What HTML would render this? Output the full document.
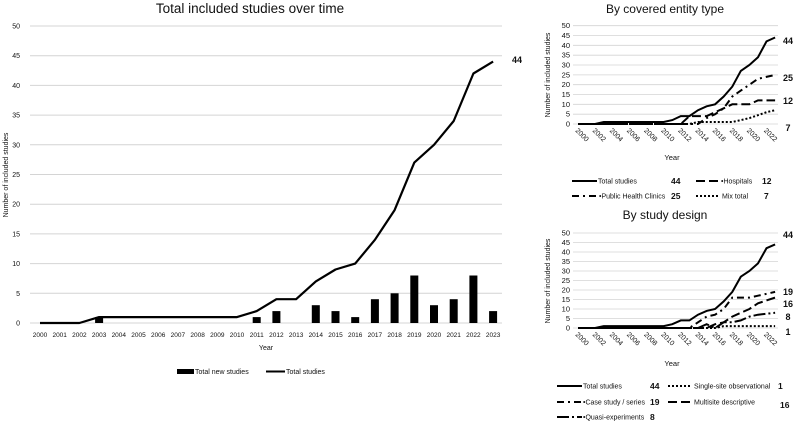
<!DOCTYPE html>
<html><head><meta charset="utf-8"><style>
html,body{margin:0;padding:0;background:#fff;}
svg{display:block;font-family:"Liberation Sans",sans-serif;}
</style></head><body>
<svg width="800" height="423" viewBox="0 0 800 423" xmlns="http://www.w3.org/2000/svg">
<!-- MAIN CHART -->
<text x="250" y="13" font-size="13.5" text-anchor="middle" fill="#111">Total included studies over time</text>
<g stroke="#d4d4d4" stroke-width="1">
<line x1="30" x2="502" y1="323" y2="323"/><line x1="30" x2="502" y1="293.3" y2="293.3"/><line x1="30" x2="502" y1="263.6" y2="263.6"/><line x1="30" x2="502" y1="233.9" y2="233.9"/><line x1="30" x2="502" y1="204.2" y2="204.2"/><line x1="30" x2="502" y1="174.5" y2="174.5"/><line x1="30" x2="502" y1="144.8" y2="144.8"/><line x1="30" x2="502" y1="115.1" y2="115.1"/><line x1="30" x2="502" y1="85.4" y2="85.4"/><line x1="30" x2="502" y1="55.7" y2="55.7"/><line x1="30" x2="502" y1="26" y2="26"/>
</g>
<g font-size="7" text-anchor="end" fill="#111">
<text x="20" y="325.5">0</text><text x="20" y="295.8">5</text><text x="20" y="266.1">10</text><text x="20" y="236.4">15</text><text x="20" y="206.7">20</text><text x="20" y="177">25</text><text x="20" y="147.3">30</text><text x="20" y="117.6">35</text><text x="20" y="87.9">40</text><text x="20" y="58.2">45</text><text x="20" y="28.5">50</text>
</g>
<text transform="translate(8,175) rotate(-90)" font-size="7" text-anchor="middle" fill="#111">Number of included studies</text>
<g fill="#000">
<rect x="95.1" y="317.1" width="8" height="5.9"/><rect x="252.7" y="317.1" width="8" height="5.9"/><rect x="272.4" y="311.1" width="8" height="11.9"/><rect x="311.8" y="305.2" width="8" height="17.8"/><rect x="331.5" y="311.1" width="8" height="11.9"/><rect x="351.2" y="317.1" width="8" height="5.9"/><rect x="370.9" y="299.2" width="8" height="23.8"/><rect x="390.6" y="293.3" width="8" height="29.7"/><rect x="410.3" y="275.5" width="8" height="47.5"/><rect x="430" y="305.2" width="8" height="17.8"/><rect x="449.7" y="299.2" width="8" height="23.8"/><rect x="469.4" y="275.5" width="8" height="47.5"/><rect x="489.1" y="311.1" width="8" height="11.9"/>
</g>
<polyline fill="none" stroke="#000" stroke-width="2.2" stroke-linejoin="round" points="40,323 79.4,323 99.1,317.1 237,317.1 256.7,311.1 276.4,299.2 296.1,299.2 315.8,281.4 335.5,269.5 355.2,263.6 374.9,239.8 394.6,210.1 414.3,162.6 434,144.8 453.7,121 473.4,73.5 493.1,61.6"/>
<text x="512" y="63" font-size="9" font-weight="bold" fill="#111">44</text>
<g font-size="6.5" text-anchor="middle" fill="#111">
<text x="40" y="337">2000</text><text x="59.7" y="337">2001</text><text x="79.4" y="337">2002</text><text x="99.1" y="337">2003</text><text x="118.8" y="337">2004</text><text x="138.5" y="337">2005</text><text x="158.2" y="337">2006</text><text x="177.9" y="337">2007</text><text x="197.6" y="337">2008</text><text x="217.3" y="337">2009</text><text x="237" y="337">2010</text><text x="256.7" y="337">2011</text><text x="276.4" y="337">2012</text><text x="296.1" y="337">2013</text><text x="315.8" y="337">2014</text><text x="335.5" y="337">2015</text><text x="355.2" y="337">2016</text><text x="374.9" y="337">2017</text><text x="394.6" y="337">2018</text><text x="414.3" y="337">2019</text><text x="434" y="337">2020</text><text x="453.7" y="337">2021</text><text x="473.4" y="337">2022</text><text x="493.1" y="337">2023</text>
</g>
<text x="266" y="350" font-size="7" text-anchor="middle" fill="#111">Year</text>
<rect x="177" y="369" width="17" height="5" fill="#000"/>
<text x="195" y="374" font-size="7" fill="#111">Total new studies</text>
<line x1="266" x2="285" y1="371.5" y2="371.5" stroke="#000" stroke-width="2"/>
<text x="286" y="374" font-size="7" fill="#111">Total studies</text>

<!-- TOP RIGHT -->
<text x="665" y="13" font-size="12" text-anchor="middle" fill="#111">By covered entity type</text>
<g stroke="#d4d4d4" stroke-width="0.8">
<line x1="573" x2="778" y1="124" y2="124"/><line x1="573" x2="778" y1="114.2" y2="114.2"/><line x1="573" x2="778" y1="104.3" y2="104.3"/><line x1="573" x2="778" y1="94.5" y2="94.5"/><line x1="573" x2="778" y1="84.7" y2="84.7"/><line x1="573" x2="778" y1="74.9" y2="74.9"/><line x1="573" x2="778" y1="65" y2="65"/><line x1="573" x2="778" y1="55.2" y2="55.2"/><line x1="573" x2="778" y1="45.3" y2="45.3"/><line x1="573" x2="778" y1="35.5" y2="35.5"/><line x1="573" x2="778" y1="25.7" y2="25.7"/>
</g>
<g font-size="7.5" text-anchor="end" fill="#111">
<text x="570" y="126.5">0</text><text x="570" y="116.7">5</text><text x="570" y="106.8">10</text><text x="570" y="97">15</text><text x="570" y="87.2">20</text><text x="570" y="77.4">25</text><text x="570" y="67.5">30</text><text x="570" y="57.7">35</text><text x="570" y="47.8">40</text><text x="570" y="38">45</text><text x="570" y="28.2">50</text>
</g>
<text transform="translate(550,75) rotate(-90)" font-size="7" text-anchor="middle" fill="#111">Number of included studies</text>
<polyline fill="none" stroke="#000" stroke-width="2" points="578,124 595.1,124 603.7,122 663.7,122 672.3,120.1 680.8,116.1 689.4,116.1 698,110.2 706.6,106.3 715.1,104.3 723.7,96.5 732.3,86.6 740.8,70.9 749.4,65 758,57.2 766.5,41.4 775.1,37.5"/>
<polyline fill="none" stroke="#000" stroke-width="2" stroke-dasharray="9,4" points="578,124 680.8,124 689.4,116.1 706.6,116.1 715.1,112.2 723.7,108.3 732.3,104.3 749.4,104.3 758,100.4 775.1,100.4"/>
<polyline fill="none" stroke="#000" stroke-width="2" stroke-dasharray="7,4,2,4" points="578,124 698,124 706.6,118.1 715.1,114.2 723.7,108.3 732.3,96.5 740.8,90.6 749.4,84.7 758,78.8 775.1,74.9"/>
<polyline fill="none" stroke="#000" stroke-width="2" stroke-dasharray="2,2" points="578,124 689.4,124 698,122 732.3,122 740.8,120.1 749.4,118.1 758,115.2 766.5,112.2 775.1,110.2"/>
<g font-size="9" font-weight="bold" fill="#111" text-anchor="middle">
<text x="788" y="44">44</text><text x="788" y="81">25</text><text x="788" y="104">12</text><text x="788" y="131">7</text>
</g>
<g font-size="7" fill="#111">
<text transform="translate(575,131) rotate(45)">2000</text><text transform="translate(592.1,131) rotate(45)">2002</text><text transform="translate(609.3,131) rotate(45)">2004</text><text transform="translate(626.4,131) rotate(45)">2006</text><text transform="translate(643.6,131) rotate(45)">2008</text><text transform="translate(660.7,131) rotate(45)">2010</text><text transform="translate(677.8,131) rotate(45)">2012</text><text transform="translate(695,131) rotate(45)">2014</text><text transform="translate(712.1,131) rotate(45)">2016</text><text transform="translate(729.3,131) rotate(45)">2018</text><text transform="translate(746.4,131) rotate(45)">2020</text><text transform="translate(763.5,131) rotate(45)">2022</text>
</g>
<text x="672" y="160" font-size="7.5" text-anchor="middle" fill="#111">Year</text>
<g font-size="7" fill="#111">
<line x1="572" x2="597" y1="181" y2="181" stroke="#000" stroke-width="2"/><text x="598" y="183.5">Total studies</text>
<text x="671" y="184" font-size="8.5" font-weight="bold">44</text>
<line x1="696" x2="720" y1="181" y2="181" stroke="#000" stroke-width="2" stroke-dasharray="9,4"/><text x="721" y="183.5">•Hospitals</text>
<text x="762" y="184" font-size="8.5" font-weight="bold">12</text>
<line x1="572" x2="598" y1="196" y2="196" stroke="#000" stroke-width="2" stroke-dasharray="7,4,2,4"/><text x="599" y="198.5">•Public Health Clinics</text>
<text x="671" y="199" font-size="8.5" font-weight="bold">25</text>
<line x1="696" x2="720" y1="196" y2="196" stroke="#000" stroke-width="2" stroke-dasharray="2,2"/><text x="722" y="198.5">Mix total</text>
<text x="764" y="199" font-size="8.5" font-weight="bold">7</text>
</g>

<!-- BOTTOM RIGHT -->
<text x="665" y="219" font-size="12" text-anchor="middle" fill="#111">By study design</text>
<g stroke="#d4d4d4" stroke-width="0.8">
<line x1="573" x2="778" y1="328" y2="328"/><line x1="573" x2="778" y1="318.5" y2="318.5"/><line x1="573" x2="778" y1="309" y2="309"/><line x1="573" x2="778" y1="299.5" y2="299.5"/><line x1="573" x2="778" y1="290" y2="290"/><line x1="573" x2="778" y1="280.5" y2="280.5"/><line x1="573" x2="778" y1="271" y2="271"/><line x1="573" x2="778" y1="261.5" y2="261.5"/><line x1="573" x2="778" y1="252" y2="252"/><line x1="573" x2="778" y1="242.5" y2="242.5"/><line x1="573" x2="778" y1="233" y2="233"/>
</g>
<g font-size="7.5" text-anchor="end" fill="#111">
<text x="570" y="330.5">0</text><text x="570" y="321">5</text><text x="570" y="311.5">10</text><text x="570" y="302">15</text><text x="570" y="292.5">20</text><text x="570" y="283">25</text><text x="570" y="273.5">30</text><text x="570" y="264">35</text><text x="570" y="254.5">40</text><text x="570" y="245">45</text><text x="570" y="235.5">50</text>
</g>
<text transform="translate(550,281) rotate(-90)" font-size="7" text-anchor="middle" fill="#111">Number of included studies</text>
<polyline fill="none" stroke="#000" stroke-width="2" points="578,328 595.1,328 603.7,326.1 663.7,326.1 672.3,324.2 680.8,320.4 689.4,320.4 698,314.7 706.6,310.9 715.1,309 723.7,301.4 732.3,291.9 740.8,276.7 749.4,271 758,263.4 766.5,248.2 775.1,244.4"/>
<polyline fill="none" stroke="#000" stroke-width="2" stroke-dasharray="7,4,2,4" points="578,328 689.4,328 698,322.3 706.6,316.6 715.1,314.7 723.7,309 732.3,297.6 749.4,297.6 758,295.7 775.1,291.9"/>
<polyline fill="none" stroke="#000" stroke-width="2" stroke-dasharray="9,4" points="578,328 706.6,328 715.1,324.2 723.7,322.3 732.3,316.6 740.8,312.8 749.4,309 758,303.3 775.1,297.6"/>
<polyline fill="none" stroke="#000" stroke-width="2" stroke-dasharray="12,3,2,3" points="578,328 698,328 706.6,324.2 715.1,328 723.7,322.3 732.3,322.3 740.8,320.4 749.4,316.6 758,314.7 775.1,312.8"/>
<polyline fill="none" stroke="#000" stroke-width="2" stroke-dasharray="2,2" points="578,328 715.1,328 723.7,326.1 775.1,326.1"/>
<g font-size="9" font-weight="bold" fill="#111" text-anchor="middle">
<text x="788" y="238">44</text><text x="788" y="295">19</text><text x="788" y="307">16</text><text x="788" y="320">8</text><text x="788" y="335">1</text>
</g>
<g font-size="7" fill="#111">
<text transform="translate(575,335) rotate(45)">2000</text><text transform="translate(592.1,335) rotate(45)">2002</text><text transform="translate(609.3,335) rotate(45)">2004</text><text transform="translate(626.4,335) rotate(45)">2006</text><text transform="translate(643.6,335) rotate(45)">2008</text><text transform="translate(660.7,335) rotate(45)">2010</text><text transform="translate(677.8,335) rotate(45)">2012</text><text transform="translate(695,335) rotate(45)">2014</text><text transform="translate(712.1,335) rotate(45)">2016</text><text transform="translate(729.3,335) rotate(45)">2018</text><text transform="translate(746.4,335) rotate(45)">2020</text><text transform="translate(763.5,335) rotate(45)">2022</text>
</g>
<text x="672" y="366" font-size="7.5" text-anchor="middle" fill="#111">Year</text>
<g font-size="7" fill="#111">
<line x1="557" x2="582" y1="386" y2="386" stroke="#000" stroke-width="2"/><text x="583" y="388.5">Total studies</text>
<text x="650" y="389" font-size="8.5" font-weight="bold">44</text>
<line x1="668" x2="692" y1="386" y2="386" stroke="#000" stroke-width="2" stroke-dasharray="2,2"/><text x="694" y="388.5">Single-site observational</text>
<text x="778" y="389" font-size="8.5" font-weight="bold">1</text>
<line x1="557" x2="582" y1="402" y2="402" stroke="#000" stroke-width="2" stroke-dasharray="7,4,2,4"/><text x="583" y="404.5">•Case study / series</text>
<text x="650" y="405" font-size="8.5" font-weight="bold">19</text>
<line x1="668" x2="692" y1="402" y2="402" stroke="#000" stroke-width="2" stroke-dasharray="9,4"/><text x="694" y="404.5">Multisite descriptive</text>
<text x="780" y="408" font-size="8.5" font-weight="bold">16</text>
<line x1="557" x2="582" y1="417" y2="417" stroke="#000" stroke-width="2" stroke-dasharray="12,3,2,3"/><text x="583" y="419.5">•Quasi-experiments</text>
<text x="650" y="420" font-size="8.5" font-weight="bold">8</text>
</g>
</svg>
</body></html>
